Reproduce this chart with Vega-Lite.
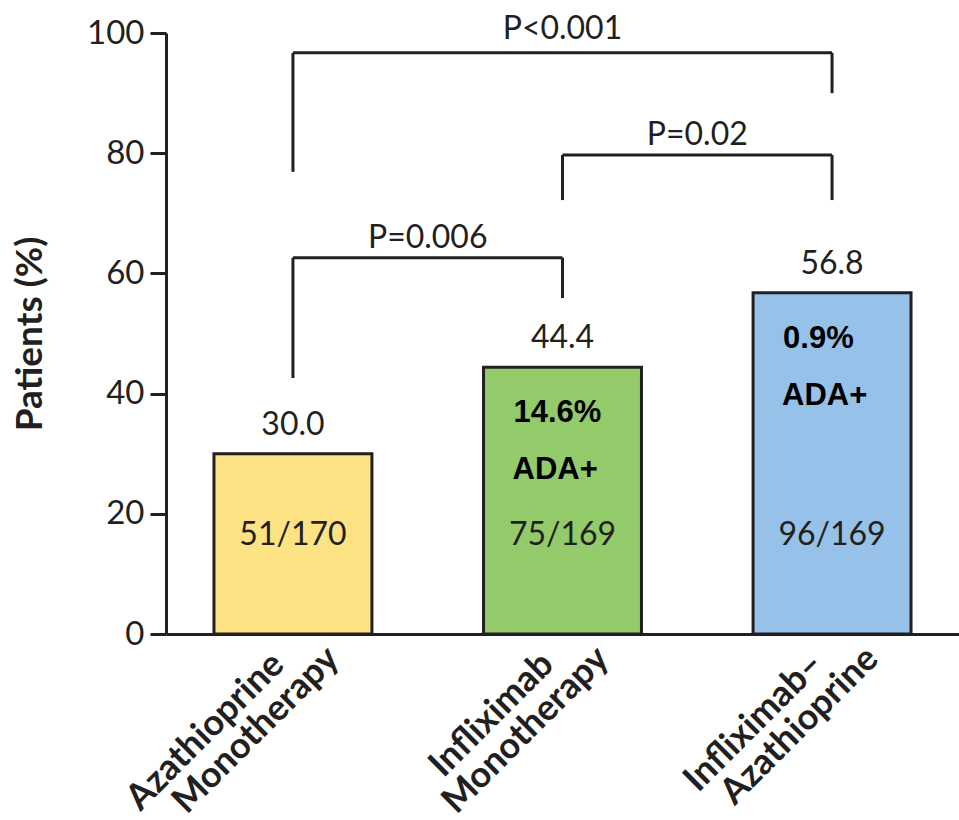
{
  "$schema": "https://vega.github.io/schema/vega-lite/v6.json",
  "width": 793,
  "height": 601,
  "autosize": {"type": "none"},
  "padding": {"left": 166, "top": 33, "right": 0, "bottom": 186},
  "background": "white",
  "config": {
    "view": {"stroke": null},
    "font": "Lato",
    "axis": {"domainColor": "#231f20", "domainWidth": 3, "tickColor": "#231f20", "labelColor": "#231f20", "titleColor": "#231f20"}
  },
  "datasets": {
    "bars": [
      {"group": "Azathioprine Monotherapy", "label1": "Azathioprine", "label2": "Monotherapy", "value": 30.0, "frac": "51/170", "ada": null},
      {"group": "Infliximab Monotherapy", "label1": "Infliximab", "label2": "Monotherapy", "value": 44.4, "frac": "75/169", "ada": "14.6%"},
      {"group": "Infliximab–Azathioprine", "label1": "Infliximab–", "label2": "Azathioprine", "value": 56.8, "frac": "96/169", "ada": "0.9%"}
    ],
    "brackets": [
      {"from": "Azathioprine Monotherapy", "to": "Infliximab Monotherapy", "span": 1, "top": 62.6, "leftEnd": 42.6, "rightEnd": 55.9, "label": "P=0.006"},
      {"from": "Infliximab Monotherapy", "to": "Infliximab–Azathioprine", "span": 1, "top": 79.7, "leftEnd": 72.2, "rightEnd": 72.2, "label": "P=0.02"},
      {"from": "Azathioprine Monotherapy", "to": "Infliximab–Azathioprine", "span": 2, "top": 96.7, "leftEnd": 76.9, "rightEnd": 90.0, "label": "P<0.001"}
    ]
  },
  "layer": [
    {
      "data": {"name": "bars"},
      "mark": {"type": "bar", "stroke": "#231f20", "strokeWidth": 3},
      "encoding": {
        "x": {
          "field": "group", "type": "nominal", "sort": null,
          "scale": {"paddingInner": 0.414, "paddingOuter": 0.178},
          "axis": {"title": null, "labels": false, "ticks": false, "domainWidth": 3}
        },
        "y": {
          "field": "value", "type": "quantitative",
          "scale": {"domain": [0, 100], "nice": false},
          "axis": {
            "title": "Patients (%)", "values": [0, 20, 40, 60, 80, 100], "grid": false,
            "tickSize": 16, "tickWidth": 3, "labelPadding": 6,
            "labelFontSize": 33, "labelFont": "Lato",
            "titleFontSize": 37, "titleFont": "Lato", "titleFontWeight": "bold", "titlePadding": 37
          }
        },
        "color": {
          "field": "group", "type": "nominal", "sort": null,
          "scale": {"domain": ["Azathioprine Monotherapy", "Infliximab Monotherapy", "Infliximab–Azathioprine"], "range": ["#fee384", "#93cb6b", "#96c2e9"]},
          "legend": null
        }
      }
    },
    {
      "data": {"name": "bars"},
      "mark": {"type": "text", "font": "Lato", "fontSize": 32, "color": "#231f20", "baseline": "alphabetic", "dy": -19},
      "encoding": {
        "x": {"field": "group", "type": "nominal", "sort": null},
        "y": {"field": "value", "type": "quantitative"},
        "text": {"field": "value", "type": "quantitative", "format": ".1f"}
      }
    },
    {
      "data": {"name": "bars"},
      "mark": {"type": "text", "font": "Lato", "fontSize": 32, "color": "#231f20", "baseline": "middle", "dy": -99},
      "encoding": {
        "x": {"field": "group", "type": "nominal", "sort": null},
        "y": {"datum": 0},
        "text": {"field": "frac"}
      }
    },
    {
      "data": {"name": "bars"},
      "transform": [{"filter": "datum.ada != null"}],
      "mark": {"type": "text", "font": "Liberation Sans", "fontWeight": "bold", "fontSize": 31, "color": "black", "align": "left", "baseline": "middle", "dx": -49, "dy": 46},
      "encoding": {
        "x": {"field": "group", "type": "nominal", "sort": null},
        "y": {"field": "value", "type": "quantitative"},
        "text": {"field": "ada"}
      }
    },
    {
      "data": {"name": "bars"},
      "transform": [{"filter": "datum.ada != null"}],
      "mark": {"type": "text", "text": "ADA+", "font": "Liberation Sans", "fontWeight": "bold", "fontSize": 31, "color": "black", "align": "left", "baseline": "middle", "dx": -50, "dy": 103},
      "encoding": {
        "x": {"field": "group", "type": "nominal", "sort": null},
        "y": {"field": "value", "type": "quantitative"}
      }
    },
    {
      "data": {"name": "bars"},
      "mark": {"type": "text", "font": "Lato", "fontWeight": "bold", "fontSize": 36, "color": "#231f20", "angle": 315, "align": "right", "baseline": "alphabetic", "dx": -28, "dy": 18},
      "encoding": {
        "x": {"field": "group", "type": "nominal", "sort": null},
        "y": {"datum": 0},
        "text": {"field": "label1"}
      }
    },
    {
      "data": {"name": "bars"},
      "mark": {"type": "text", "font": "Lato", "fontWeight": "bold", "fontSize": 36, "color": "#231f20", "angle": 315, "align": "right", "baseline": "alphabetic", "dx": 15, "dy": 53},
      "encoding": {
        "x": {"field": "group", "type": "nominal", "sort": null},
        "y": {"datum": 0},
        "text": {"field": "label2"}
      }
    },
    {
      "data": {"name": "brackets"},
      "mark": {"type": "rule", "color": "#231f20", "strokeWidth": 3},
      "encoding": {
        "x": {"field": "from", "type": "nominal", "bandPosition": 0.5},
        "x2": {"field": "to"},
        "y": {"field": "top", "type": "quantitative"}
      }
    },
    {
      "data": {"name": "brackets"},
      "mark": {"type": "rule", "color": "#231f20", "strokeWidth": 3},
      "encoding": {
        "x": {"field": "from", "type": "nominal", "bandPosition": 0.5},
        "y": {"field": "top", "type": "quantitative"},
        "y2": {"field": "leftEnd"}
      }
    },
    {
      "data": {"name": "brackets"},
      "mark": {"type": "rule", "color": "#231f20", "strokeWidth": 3},
      "encoding": {
        "x": {"field": "to", "type": "nominal", "bandPosition": 0.5},
        "y": {"field": "top", "type": "quantitative"},
        "y2": {"field": "rightEnd"}
      }
    },
    {
      "data": {"name": "brackets"},
      "transform": [{"filter": "datum.span == 1"}],
      "mark": {"type": "text", "font": "Lato", "fontSize": 32, "color": "#231f20", "baseline": "alphabetic", "dx": 134.75, "dy": -10},
      "encoding": {
        "x": {"field": "from", "type": "nominal"},
        "y": {"field": "top", "type": "quantitative"},
        "text": {"field": "label"}
      }
    },
    {
      "data": {"name": "brackets"},
      "transform": [{"filter": "datum.span == 2"}],
      "mark": {"type": "text", "font": "Lato", "fontSize": 32, "color": "#231f20", "baseline": "alphabetic", "dx": 269.5, "dy": -14},
      "encoding": {
        "x": {"field": "from", "type": "nominal"},
        "y": {"field": "top", "type": "quantitative"},
        "text": {"field": "label"}
      }
    }
  ]
}
